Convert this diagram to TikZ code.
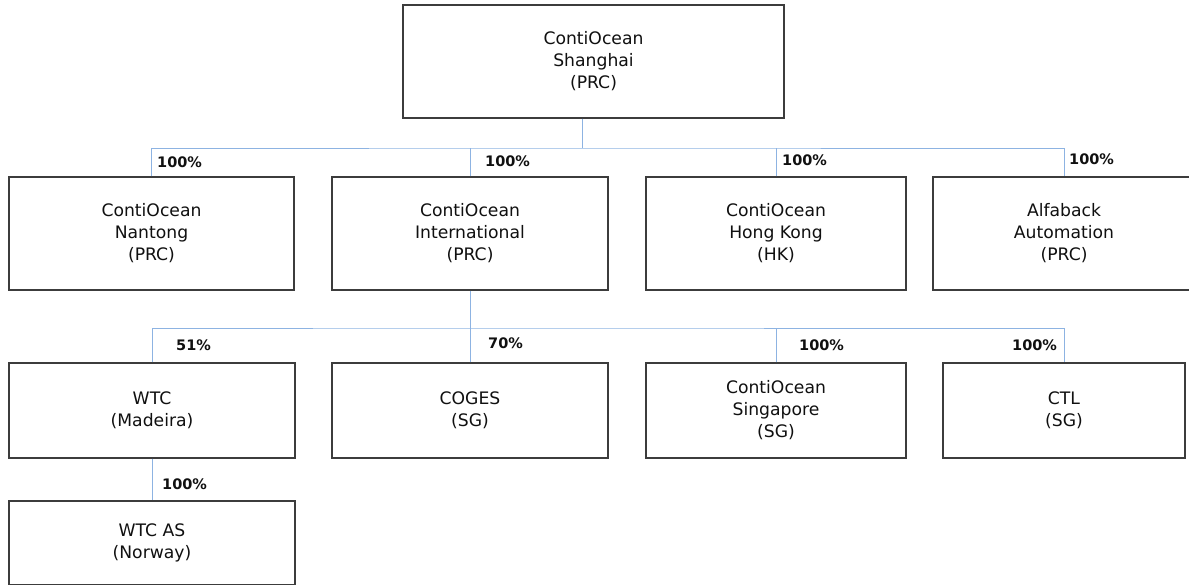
\documentclass[tikz,border=0pt]{standalone}
\usepackage{fontspec}
\setmainfont{DejaVu Sans}
\usepackage{tikz}
\usetikzlibrary{calc}
\usetikzlibrary{positioning}

\definecolor{linkblue}{HTML}{8DB3E2}
\definecolor{boxgray}{HTML}{3C3C3C}
\definecolor{inkgray}{HTML}{101010}

\begin{document}
\begin{tikzpicture}[x=1pt,y=-1pt]
\tikzstyle{entity}=[rectangle,align=center,draw=boxgray,line width=1.2pt,fill=white,
                    text=inkgray,font=\fontsize{17.2}{22}\selectfont,inner sep=0pt]
\tikzstyle{pct}=[anchor=west,inner sep=0pt,text=inkgray,font=\fontsize{14.5}{16}\selectfont\bfseries]
\tikzstyle{link}=[draw=linkblue,line width=0.8pt]
\useasboundingbox (0,0) rectangle (1189,585);

% parent
\node[entity,minimum width=381pt,minimum height=113pt] at(593.5,61.5) (top) {ContiOcean\\Shanghai\\(PRC)};

% first level
\node[entity,minimum width=285pt,minimum height=113pt] at(151.5,233.5) (nantong) {ContiOcean\\Nantong\\(PRC)};
\node[entity,minimum width=276pt,minimum height=113pt] at(470,233.5) (intl) {ContiOcean\\International\\(PRC)};
\node[entity,minimum width=260pt,minimum height=113pt] at(776,233.5) (hk) {ContiOcean\\Hong Kong\\(HK)};
\node[entity,minimum width=262pt,minimum height=113pt] at(1064,233.5) (alfa) {Alfaback\\Automation\\(PRC)};

% second level
\node[entity,minimum width=286pt,minimum height=95pt] at(152,410.5) (wtc) {WTC\\(Madeira)};
\node[entity,minimum width=276pt,minimum height=95pt] at(470,410.5) (coges) {COGES\\(SG)};
\node[entity,minimum width=260pt,minimum height=95pt] at(776,410.5) (sing) {ContiOcean\\Singapore\\(SG)};
\node[entity,minimum width=242pt,minimum height=95pt] at(1064,410.5) (ctl) {CTL\\(SG)};

% third level
\node[entity,minimum width=286pt,minimum height=84pt] at(152,543) (wtcas) {WTC AS\\(Norway)};

% connectors
\coordinate (busa) at(582,148);
\coordinate (busb) at(470,328);
\draw[link] (top.south -| busa) -- (busa);
\draw[link] (nantong.north) |- (busa) -| (alfa.north);
\draw[link] (intl.north) -- (intl.north |- busa);
\draw[link] (hk.north) -- (hk.north |- busa);
\draw[link] (intl.south) -- (busb);
\draw[link] (wtc.north) |- (busb) -| (ctl.north);
\draw[link] (coges.north) -- (busb);
\draw[link] (sing.north) -- (sing.north |- busb);
\draw[link] (wtc.south) -- (wtcas.north);

% shares
\node[pct] at(157,162) (pnantong) {100\%};
\node[pct] at(485,161) (pintl) {100\%};
\node[pct] at(782,160) (phk) {100\%};
\node[pct] at(1069,159) (palfa) {100\%};
\node[pct] at(176,345) (pwtc) {51\%};
\node[pct] at(488,343) (pcoges) {70\%};
\node[pct] at(799,345) (psing) {100\%};
\node[pct] at(1012,345) (pctl) {100\%};
\node[pct] at(162,484) (pwtcas) {100\%};
\end{tikzpicture}
\end{document}
